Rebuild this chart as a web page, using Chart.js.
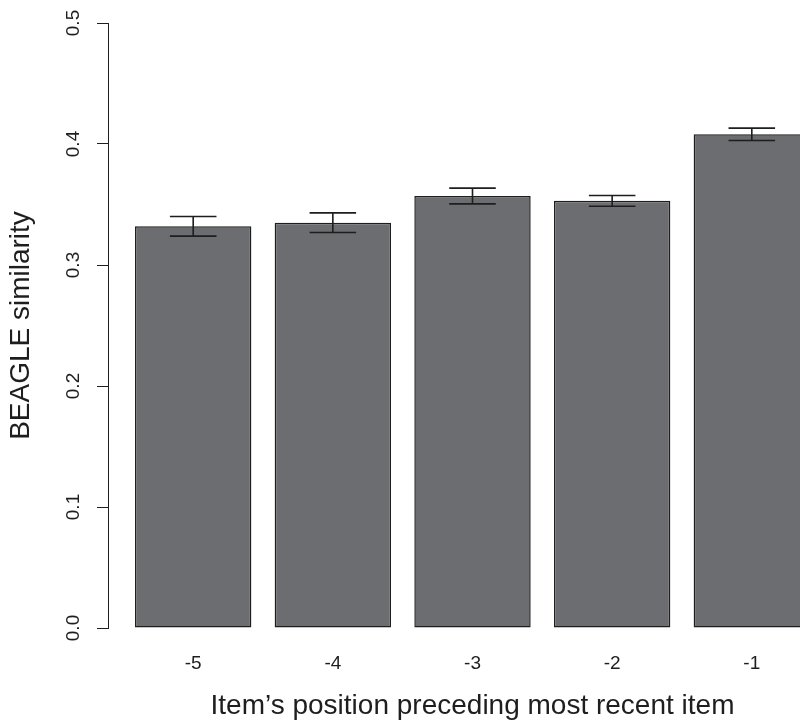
<!DOCTYPE html>
<html>
<head>
<meta charset="utf-8">
<script src="https://cdn.jsdelivr.net/npm/chart.js@4.4.1/dist/chart.umd.min.js"></script>
<style>
  html, body { margin: 0; padding: 0; background: #ffffff; overflow: hidden; }
  #wrap { width: 800px; height: 721px; overflow: hidden; }
  canvas { display: block; }
</style>
</head>
<body>
<div id="wrap"><canvas id="chart" width="837" height="721"></canvas></div>
<script>
// Position of the preceding item and its mean BEAGLE similarity (with error)
const positions = ['-5', '-4', '-3', '-2', '-1'];
const similarity = [0.332, 0.335, 0.357, 0.353, 0.408];
const errors = [0.0081, 0.0081, 0.0065, 0.0045, 0.0051];
const yTicks = [0.0, 0.1, 0.2, 0.3, 0.4, 0.5];

// barplot-style layout: bars of width 1 separated by 0.2
const barWidth = 1, barSpace = 0.2;
const mids = positions.map((_, i) => barSpace + barWidth / 2 + i * (barWidth + barSpace));
const span = positions.length * (barWidth + barSpace) - barSpace;
const xMin = barSpace - 0.04 * span;
const xMax = positions.length * (barWidth + barSpace) + 0.04 * span;

const FONT = "'Liberation Sans', Arial, Helvetica, sans-serif";
const INK = '#1e1e1e';

const errorBars = {
  id: 'errorBars',
  afterDatasetsDraw(chart) {
    const { ctx, scales: { y } } = chart;
    const meta = chart.getDatasetMeta(0);
    ctx.save();
    ctx.strokeStyle = INK;
    ctx.lineWidth = 1.6;
    meta.data.forEach((bar, i) => {
      const top = y.getPixelForValue(similarity[i] + errors[i]);
      const bot = y.getPixelForValue(similarity[i] - errors[i]);
      const half = bar.width * 0.2;
      ctx.beginPath();
      ctx.moveTo(bar.x, top); ctx.lineTo(bar.x, bot);
      ctx.moveTo(bar.x - half, top); ctx.lineTo(bar.x + half, top);
      ctx.moveTo(bar.x - half, bot); ctx.lineTo(bar.x + half, bot);
      ctx.stroke();
    });
    ctx.restore();
  }
};

new Chart(document.getElementById('chart'), {
  type: 'bar',
  data: {
    datasets: [{
      data: mids.map((x, i) => ({ x: x, y: similarity[i] })),
      backgroundColor: '#6c6d71',
      borderColor: INK,
      borderWidth: 1.5,
      borderSkipped: false,
      categoryPercentage: barWidth / (barWidth + barSpace),
      barPercentage: 1
    }]
  },
  options: {
    responsive: false,
    animation: false,
    devicePixelRatio: 1,
    layout: { padding: { top: 23, right: 0, left: 0, bottom: 0 } },
    plugins: { legend: { display: false }, tooltip: { enabled: false } },
    scales: {
      x: {
        type: 'linear',
        offset: false,
        min: xMin,
        max: xMax,
        afterBuildTicks(scale) { scale.ticks = mids.map(v => ({ value: v })); },
        afterFit(scale) { scale.height = 93; },
        grid: { display: false },
        border: { display: false },
        ticks: {
          autoSkip: false,
          maxRotation: 0,
          padding: 16,
          color: INK,
          font: { family: FONT, size: 19 },
          callback(value) {
            const i = mids.findIndex(m => Math.abs(m - value) < 1e-6);
            return i >= 0 ? positions[i] : '';
          }
        },
        title: {
          display: true,
          text: 'Item\u2019s position preceding most recent item',
          color: INK,
          font: { family: FONT, size: 28 },
          padding: { top: 8, bottom: -2 }
        }
      },
      y: {
        min: 0,
        max: 0.5,
        afterBuildTicks(scale) { scale.ticks = yTicks.map(v => ({ value: v })); },
        afterFit(scale) { scale.width = 108; },
        grid: { drawOnChartArea: false, drawTicks: true, tickLength: 11, color: INK, lineWidth: 1 },
        border: { display: true, color: INK, width: 1 },
        ticks: {
          minRotation: 90,
          maxRotation: 90,
          crossAlign: 'center',
          padding: 10,
          color: INK,
          font: { family: FONT, size: 19 },
          callback(value) { return value.toFixed(1); }
        },
        title: {
          display: true,
          text: 'BEAGLE similarity',
          color: INK,
          font: { family: FONT, size: 28 },
          padding: { top: 4, bottom: 0 }
        }
      }
    }
  },
  plugins: [errorBars]
});
</script>
</body>
</html>
